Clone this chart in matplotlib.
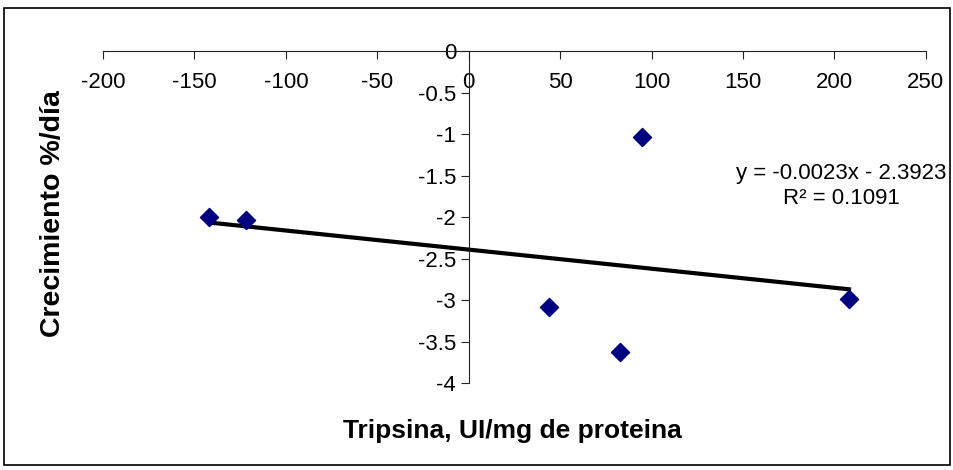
import matplotlib
matplotlib.use("Agg")
import matplotlib.pyplot as plt
from matplotlib.patches import Rectangle
import numpy as np

plt.rcParams['font.family'] = ['Liberation Sans', 'DejaVu Sans']
plt.rcParams['axes.unicode_minus'] = False

# data
tripsina = [-142, -122, 44, 95, 83, 208]
crecimiento = [-2.00, -2.03, -3.08, -1.04, -3.62, -2.99]

# trend line as printed on the chart
slope = -0.0023
intercept = -2.3923
r2 = 0.1091

xticks = [-200, -150, -100, -50, 0, 50, 100, 150, 200, 250]
yticks = [0, -0.5, -1, -1.5, -2, -2.5, -3, -3.5, -4]

fig = plt.figure(figsize=(9.54, 4.70), dpi=100)
ax = fig.add_axes([0.108, 0.185, 0.8625, 0.7064])

# outer chart frame
fig.patches.append(Rectangle((0.004, 0.011), 0.992, 0.972, transform=fig.transFigure,
                             fill=False, edgecolor='black', linewidth=1.2))

ax.scatter(tripsina, crecimiento, marker='D', s=85, color='#000080', zorder=3)

xs = np.array([min(tripsina), max(tripsina)])
ax.plot(xs, slope * xs + intercept, color='black', linewidth=3, zorder=2)

ax.set_xlim(-200, 250)
ax.set_ylim(-4, 0)

ax.spines['right'].set_visible(False)
ax.spines['top'].set_visible(False)
ax.spines['left'].set_position(('data', 0))
ax.spines['bottom'].set_position(('data', 0))
ax.spines['left'].set_color('#222222')
ax.spines['bottom'].set_color('#222222')

ax.set_xticks(xticks)
ax.set_yticks(yticks)
ax.set_yticklabels([f"{v:g}" for v in yticks])
ax.tick_params(axis='x', direction='out', length=6, pad=9, labelsize=16, color='#222222')
ax.tick_params(axis='y', direction='out', length=6, pad=3, labelsize=16, color='#222222')

fig.text(0.882, 0.604, f"y = {slope}x - {abs(intercept)}\nR\u00b2 = {r2}",
         fontsize=16, ha='center', va='center', linespacing=1.25)

fig.text(0.056, 0.545, "Crecimiento %/día", rotation=90, fontsize=20.5, fontweight='bold',
         ha='center', va='center')
fig.text(0.537, 0.083, "Tripsina, UI/mg de proteina", fontsize=19, fontweight='bold',
         ha='center', va='center')

fig.savefig("out.png", dpi=100)
